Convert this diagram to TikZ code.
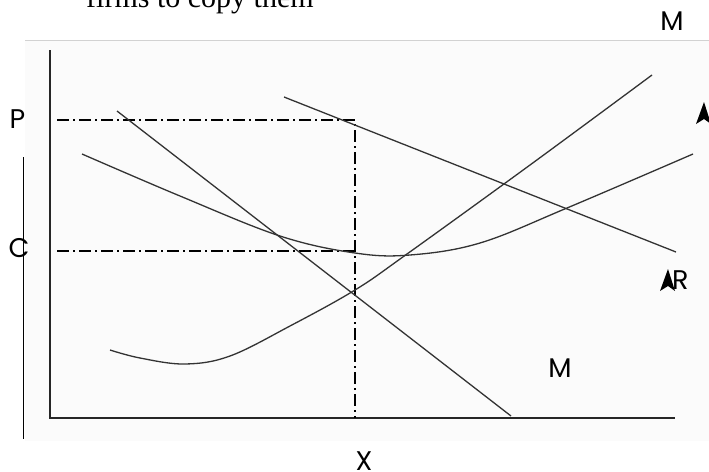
\documentclass[tikz,border=0pt]{standalone}
\usepackage{fontspec}
\setmainfont{Poppins}
\newfontfamily\titlefont{Liberation Serif}
\usepackage{tikz}
\usetikzlibrary{arrows.meta}
\definecolor{panelgray}{HTML}{FBFBFB}
\definecolor{rulegray}{HTML}{D2D2D2}
\definecolor{curvegray}{HTML}{333333}

\begin{document}
\begin{tikzpicture}[x=1pt, y=-1pt,
  curve/.style={curvegray, line width=1.3pt},
  axis/.style={black!85, line width=1.9pt},
  guide/.style={black, line width=1.3pt, dash pattern=on 12pt off 4pt on 2pt off 4pt},
  lbl/.style={font=\fontsize{27}{29}\selectfont, inner sep=0pt},
  tip/.style={fill=black}]
  \useasboundingbox (0,0) rectangle (709,471);
  \clip (0,0) rectangle (709,471);

  % Hintergrund
  \fill[panelgray] (25,41) rectangle (709,441);
  \draw[rulegray, line width=1.2pt] (25,40.5) -- (709,40.5);
  \node[font=\titlefont\fontsize{30}{32}\selectfont, inner sep=0pt, anchor=base west]
    (title) at (86,7) {firms to copy them};

  % Achsen
  \draw[axis] (50,50) -- (50,418) -- (675,418);
  \draw[black, line width=1.2pt] (23.5,157) -- (23.5,439);

  % Hilfslinien
  \draw[guide] (57,120) -- (355,120) -- (355,418);
  \draw[guide] (57,251) -- (355,251);

  % Grenzerloes
  \draw[curve] (117,111) -- (511,416);
  % Durchschnittserloes
  \draw[curve] (284,97) -- (676,252);
  % Grenzkosten
  \draw[curve] plot[smooth, tension=0.6] coordinates
    {(110,350) (140,358) (185,364) (230,356) (290,326) (355,290) (407,254) (530,165) (652,75)};
  % Durchschnittskosten
  \draw[curve] plot[smooth, tension=0.6] coordinates
    {(82,154) (180,196) (280,236) (355,253) (410,255) (480,243) (567,208) (693,154)};

  % Beschriftung
  \node[lbl] (P) at (17.5,119) {P};
  \node[lbl] (C) at (19,248) {C};
  \node[lbl] (X) at (364,461) {X};
  \node[lbl] (Mtop) at (672,21) {M};
  \node[lbl] (Mlow) at (560,368) {M};
  \node[lbl, anchor=west] (R) at (672,280) {R};
  \fill[tip] (660,291) -- (668,269) -- (675,291) -- (668,286) -- cycle;
  \fill[tip] (696,124) -- (704,102) -- (711,124) -- (704,119) -- cycle;
\end{tikzpicture}
\end{document}
